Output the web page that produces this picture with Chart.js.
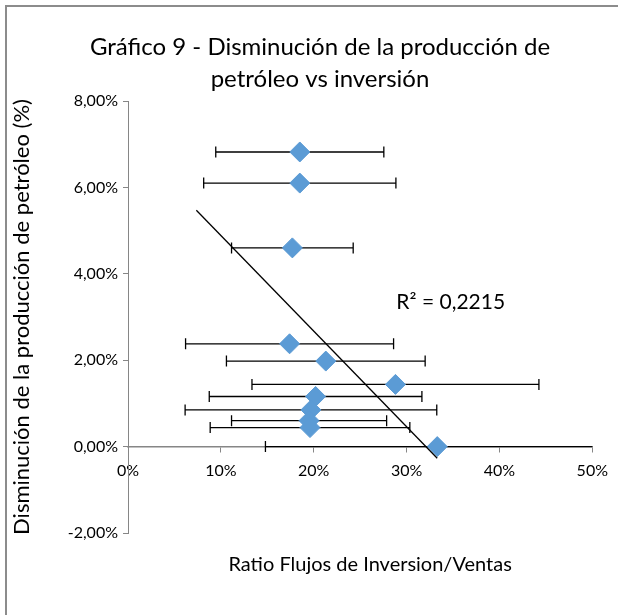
<!DOCTYPE html>
<html>
<head>
<meta charset="utf-8">
<script src="https://cdn.jsdelivr.net/npm/chart.js@4/dist/chart.umd.min.js"></script>
<style>
  body { margin: 0; background: #fff; }
</style>
</head>
<body>
<canvas id="chart1" width="618" height="615"></canvas>
<script>
// ratio flujos de inversion / ventas (%), one entry per point
const xRatio = [18.5, 18.5, 17.7, 17.4, 21.3, 28.8, 20.2, 19.7, 19.5, 19.6, 33.3];
// disminucion de la produccion de petroleo (%)
const yDecline = [6.82, 6.10, 4.60, 2.38, 1.98, 1.44, 1.16, 0.85, 0.60, 0.44, 0.00];
// horizontal error (+/-, %)
const xError = [9.05, 10.35, 6.55, 11.2, 10.7, 15.45, 11.45, 13.55, 8.35, 10.75, 18.5];
// linear trend line endpoints
const trendX = [7.36, 33.3];
const trendY = [5.47, -0.27];
const rSquared = "R² = 0,2215";
const xTicks = [0, 10, 20, 30, 40, 50];
const yTicks = [-2, 0, 2, 4, 6, 8];

const fontName = "Lato, 'Open Sans', sans-serif";
const axisGray = "#868686";

const frame = {
  id: "frame",
  beforeDraw(chart) {
    const ctx = chart.ctx;
    ctx.save();
    ctx.fillStyle = "#fff";
    ctx.fillRect(0, 0, chart.width, chart.height);
    ctx.strokeStyle = "#8c8c8c";
    ctx.lineWidth = 2;
    ctx.strokeRect(6, 6, 800, 800);
    ctx.restore();
  }
};

const errorBars = {
  id: "errorBars",
  beforeDatasetsDraw(chart) {
    const { ctx, chartArea, scales } = chart;
    const x = scales.x, y = scales.y;
    ctx.save();
    ctx.beginPath();
    ctx.rect(chartArea.left, chartArea.top, chartArea.width, chartArea.height);
    ctx.clip();
    ctx.strokeStyle = "#000";
    ctx.lineWidth = 1.3;
    for (let i = 0; i < xRatio.length; i++) {
      const py = y.getPixelForValue(yDecline[i]);
      const x0 = x.getPixelForValue(xRatio[i] - xError[i]);
      const x1 = x.getPixelForValue(xRatio[i] + xError[i]);
      ctx.beginPath();
      ctx.moveTo(x0, py);
      ctx.lineTo(x1, py);
      ctx.moveTo(x0, py - 5.5);
      ctx.lineTo(x0, py + 5.5);
      ctx.moveTo(x1, py - 5.5);
      ctx.lineTo(x1, py + 5.5);
      ctx.stroke();
    }
    ctx.restore();
  }
};

const extraText = {
  id: "extraText",
  afterDraw(chart) {
    const { ctx, chartArea, scales } = chart;
    ctx.save();
    ctx.fillStyle = "#000";
    ctx.textBaseline = "middle";
    // R squared label
    ctx.font = "21px " + fontName;
    ctx.textAlign = "left";
    ctx.fillText(rSquared, scales.x.getPixelForValue(28.9), scales.y.getPixelForValue(3.34));
    // x axis title
    ctx.font = "20px " + fontName;
    ctx.textAlign = "center";
    ctx.fillText("Ratio Flujos de Inversion/Ventas", (chartArea.left + chartArea.right) / 2 + 10, chartArea.bottom + 32);
    ctx.restore();
  }
};

new Chart(document.getElementById("chart1"), {
  type: "scatter",
  data: {
    datasets: [
      {
        label: "Trend",
        type: "line",
        data: trendX.map((v, i) => ({ x: v, y: trendY[i] })),
        borderColor: "#000",
        borderWidth: 1.3,
        pointRadius: 0,
        fill: false,
        order: 0
      },
      {
        label: "Datos",
        data: xRatio.map((v, i) => ({ x: v, y: yDecline[i] })),
        pointStyle: "rectRot",
        pointRadius: 10,
        backgroundColor: "#5B9BD5",
        borderColor: "#5B9BD5",
        borderWidth: 1,
        order: 1
      }
    ]
  },
  options: {
    responsive: false,
    animation: false,
    layout: { padding: { left: 47, top: 0, right: 25, bottom: 82 } },
    plugins: {
      legend: { display: false },
      tooltip: { enabled: false },
      title: {
        display: true,
        text: ["Gráfico 9 - Disminución de la producción de", "petróleo vs inversión"],
        color: "#000",
        font: { family: fontName, size: 24, weight: "normal", lineHeight: "32px" },
        padding: { top: 31, bottom: 6 }
      }
    },
    scales: {
      x: {
        type: "linear",
        position: { y: 0 },
        min: 0,
        max: 50,
        afterBuildTicks: (scale) => { scale.ticks = xTicks.map(v => ({ value: v })); },
        ticks: {
          color: "#000",
          font: { family: fontName, size: 16 },
          padding: 10,
          maxRotation: 0,
          callback: (v) => v + "%"
        },
        grid: { display: true, drawOnChartArea: false, drawTicks: true, tickLength: 5, color: axisGray },
        border: { display: true, color: axisGray, width: 1.5 }
      },
      y: {
        type: "linear",
        position: "left",
        min: -2,
        max: 8,
        afterBuildTicks: (scale) => { scale.ticks = yTicks.map(v => ({ value: v })); },
        afterFit: (scale) => { scale.width = 81; },
        ticks: {
          color: "#000",
          font: { family: fontName, size: 16 },
          padding: 5,
          callback: (v) => v.toFixed(2).replace(".", ",") + "%"
        },
        title: {
          display: true,
          text: "Disminución de la producción de petróleo (%)",
          color: "#000",
          font: { family: fontName, size: 22 },
          padding: { top: -38, bottom: 0 }
        },
        grid: { display: true, drawOnChartArea: false, drawTicks: true, tickLength: 5, color: axisGray },
        border: { display: true, color: axisGray, width: 1 }
      }
    }
  },
  plugins: [frame, errorBars, extraText]
});
</script>
</body>
</html>
